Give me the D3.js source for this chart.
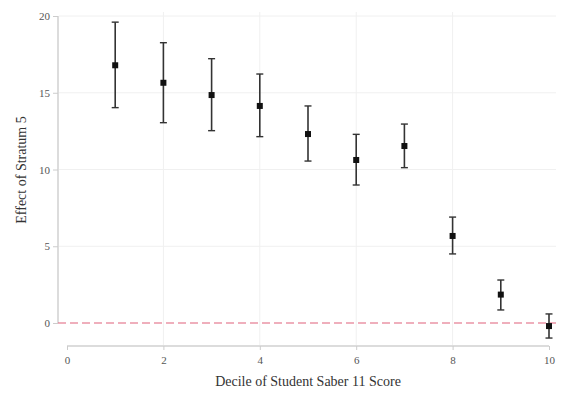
<!DOCTYPE html>
<html><head><meta charset="utf-8">
<script src="https://cdn.jsdelivr.net/npm/d3@7"></script>
<style>body{margin:0;background:#fff}</style>
</head><body>
<svg id="c" width="561" height="395"></svg>
<script>
const deciles = [1,2,3,4,5,6,7,8,9,10];
const estimates = [16.79,15.65,14.85,14.14,12.31,10.62,11.53,5.67,1.85,-0.2];
const upper = [19.6,18.26,17.22,16.22,14.14,12.29,12.96,6.9,2.8,0.59];
const lower = [14.03,13.05,12.53,12.14,10.55,8.99,10.12,4.5,0.85,-0.98];
const xTicks = [0,2,4,6,8,10];
const yTicks = [0,5,10,15,20];
const xTitle = "Decile of Student Saber 11 Score";
const yTitle = "Effect of Stratum 5";

const svg = d3.select("#c");
const x = d3.scaleLinear().domain([0,10]).range([67,549]);
const y = d3.scaleLinear().domain([0,20]).range([323,16]);
const font = "'Liberation Serif', 'Times New Roman', serif";

// gridlines
svg.append("g").selectAll("line").data(yTicks.filter(d=>d>0)).join("line")
  .attr("x1",59).attr("x2",556).attr("y1",d=>y(d)).attr("y2",d=>y(d))
  .attr("stroke","#f0f0f0").attr("stroke-width",1);
svg.append("g").selectAll("line").data(xTicks.filter(d=>d>0&&d<10)).join("line")
  .attr("y1",12).attr("y2",345).attr("x1",d=>x(d)).attr("x2",d=>x(d))
  .attr("stroke","#f0f0f0").attr("stroke-width",1);

// y axis
const yAxis = d3.axisLeft(y).tickValues(yTicks).tickSize(5).tickPadding(3);
const gy = svg.append("g").attr("transform","translate(58,0)").call(yAxis);
gy.select(".domain").attr("stroke","#dcdcdc").attr("stroke-width",2).attr("d","M0,"+y(20)+"V"+y(0));
gy.selectAll(".tick line").attr("stroke","#ccc");
gy.selectAll(".tick text").attr("font-family",font).attr("font-size",11).attr("fill","#555");

// x axis
const xAxis = d3.axisBottom(x).tickValues(xTicks).tickSize(4).tickPadding(6);
const gx = svg.append("g").attr("transform","translate(0,346)").call(xAxis);
gx.select(".domain").attr("stroke","#dcdcdc").attr("stroke-width",2).attr("d","M"+x(0)+",0H"+x(10));
gx.selectAll(".tick line").attr("stroke","#ccc");
gx.selectAll(".tick text").attr("font-family",font).attr("font-size",11).attr("fill","#555");

// zero reference line
svg.append("line").attr("x1",58).attr("x2",556).attr("y1",y(0)).attr("y2",y(0))
  .attr("stroke","#e0607a").attr("stroke-width",1.2).attr("stroke-dasharray","8,4");

// error bars
const g = svg.append("g");
deciles.forEach((d,i)=>{
  g.append("line").attr("x1",x(d)).attr("x2",x(d)).attr("y1",y(upper[i])).attr("y2",y(lower[i]))
    .attr("stroke","#333").attr("stroke-width",1.6);
  [upper[i],lower[i]].forEach(v=>{
    g.append("line").attr("x1",x(d)-3.5).attr("x2",x(d)+3.5).attr("y1",y(v)).attr("y2",y(v))
      .attr("stroke","#333").attr("stroke-width",1.4);
  });
});
g.selectAll("rect").data(deciles).join("rect")
  .attr("x",d=>x(d)-3).attr("y",(d,i)=>y(estimates[i])-3).attr("width",6).attr("height",6)
  .attr("fill","#111");

// titles
svg.append("text").attr("x",(x(0)+x(10))/2).attr("y",386).attr("text-anchor","middle")
  .attr("font-family",font).attr("font-size",14).attr("fill","#333").text(xTitle);
svg.append("text").attr("transform","translate(26,170) rotate(-90)").attr("text-anchor","middle")
  .attr("font-family",font).attr("font-size",14).attr("fill","#333").text(yTitle);
</script>
</body></html>
